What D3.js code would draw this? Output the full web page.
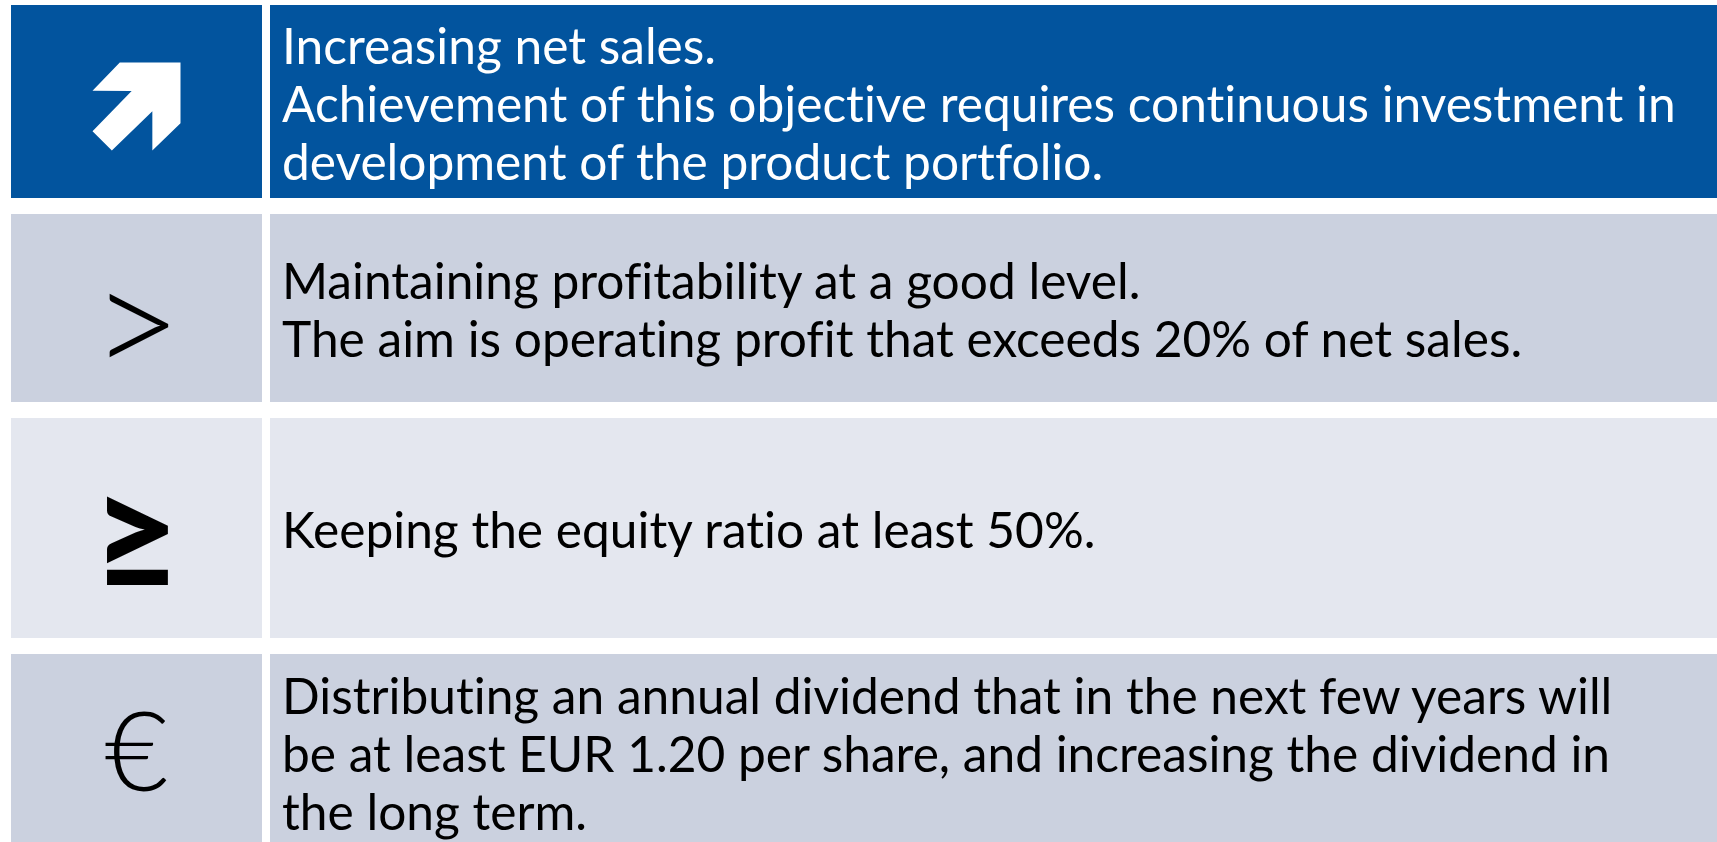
<!DOCTYPE html>
<html>
<head>
<meta charset="utf-8">
<script src="https://cdn.jsdelivr.net/npm/d3@7"></script>
<style>
  html, body { margin: 0; padding: 0; background: #fff; overflow: hidden; }
  text { font-family: Lato, "Open Sans", sans-serif; font-variant-ligatures: none; font-feature-settings: "liga" 0, "clig" 0; }
</style>
</head>
<body>
<svg id="goals"></svg>
<script>
// financial objectives, one row each
const goalIds = ["growth", "profitability", "equity", "dividend"];
const goalIcons = ["arrow", ">", "\u2265", "\u20AC"];
const goalLines = [
  ["Increasing net sales.",
   "Achievement of this objective requires continuous investment in",
   "development of the product portfolio."],
  ["Maintaining profitability at a good level.",
   "The aim is operating profit that exceeds 20% of net sales."],
  ["Keeping the equity ratio at least 50%."],
  ["Distributing an annual dividend that in the next few years will",
   "be at least EUR 1.20 per share, and increasing the dividend in",
   "the long term."]
];

const svgWidth = 1717, svgHeight = 842;

const svg = d3.select("#goals")
  .attr("width", svgWidth)
  .attr("height", svgHeight);

// row layout (tops and heights of the bands)
const rowTop = [5, 214, 418, 654];
const rowH = [193, 188, 220, 196];

const xCol = d3.scaleOrdinal().domain(["icon", "text"]).range([11, 270]);
const colW = { icon: 251, text: svgWidth - 270 };

const fill = d3.scaleOrdinal()
  .domain(goalIds)
  .range(["#02549e", "#cbd1df", "#e4e7ef", "#cbd1df"]);
const ink = d3.scaleOrdinal()
  .domain(goalIds)
  .range(["#ffffff", "#000000", "#000000", "#000000"]);

const rows = svg.selectAll("g.row")
  .data(goalIds)
  .enter()
  .append("g")
  .attr("class", "row")
  .attr("transform", (d, i) => `translate(0,${rowTop[i]})`);

rows.selectAll("rect")
  .data((d, i) => ["icon", "text"].map(c => ({ id: d, i, c })))
  .enter()
  .append("rect")
  .attr("x", d => xCol(d.c))
  .attr("y", 0)
  .attr("width", d => colW[d.c])
  .attr("height", d => rowH[d.i])
  .attr("fill", d => fill(d.id));

// fit font size to the widest line of the first row
const textWeight = 400;
const probe = svg.append("text")
  .style("font-size", "100px")
  .style("font-weight", textWeight)
  .text(goalLines[0][1]);
const fontSize = 100 * 1394 / probe.node().getComputedTextLength();
probe.remove();

const lineGap = 58;

rows.each(function (id, i) {
  const g = d3.select(this);
  const lines = goalLines[i];
  const mid = rowH[i] / 2;
  g.append("text")
    .attr("x", 282)
    .attr("fill", ink(id))
    .style("font-size", fontSize + "px")
    .style("font-weight", textWeight)
    .selectAll("tspan")
    .data(lines)
    .enter()
    .append("tspan")
    .attr("x", 282)
    .attr("y", (d, k) => mid + 20 + (k - (lines.length - 1) / 2) * lineGap)
    .text(d => d);

  const cx = xCol("icon") + colW.icon / 2;
  const cy = rowH[i] / 2;
  const icon = goalIcons[i];
  if (icon === "arrow") {
    // arrow outline in unit space, symmetric about its diagonal
    const shape = [[0.31, 0], [1, 0], [1, 0.69], [0.68, 1], [0.68, 0.555],
                   [0.22, 1], [0, 0.78], [0.445, 0.325], [0, 0.32]];
    const ax = d3.scaleLinear().domain([0, 1]).range([cx - 44, cx + 44]);
    const ay = d3.scaleLinear().domain([0, 1]).range([cy - 39, cy + 49]);
    g.append("path")
      .attr("d", d3.line().x(p => ax(p[0])).y(p => ay(p[1]))(shape) + "Z")
      .attr("fill", "#ffffff");
  } else {
    const t = g.append("text")
      .attr("x", cx)
      .attr("text-anchor", "middle")
      .attr("dominant-baseline", "central")
      .attr("fill", ink(id))
      .text(icon);
    if (icon === ">") t.attr("y", cy + 9).style("font-size", "156px").style("font-weight", 300);
    if (icon === "\u2265") t.attr("y", cy + 4).style("font-size", "152px").style("font-weight", 900);
    if (icon === "\u20AC") t.attr("y", cy - 4).style("font-size", "110px").style("font-weight", 300);
  }
});
</script>
</body>
</html>
